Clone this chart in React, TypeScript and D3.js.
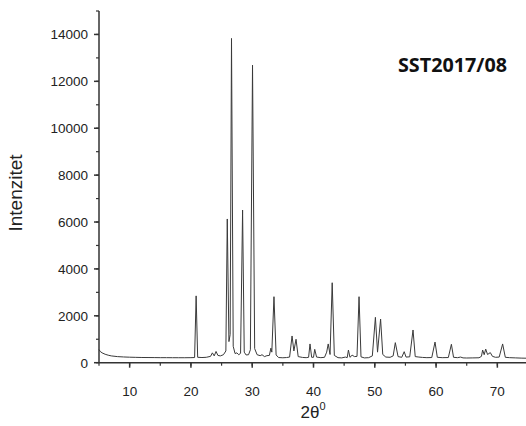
import React from "react";
import * as d3 from "d3";

const TITLE = "SST2017/08";
const X_LABEL = "2θ";
const Y_LABEL = "Intenzitet";
const X_TICKS = [10, 20, 30, 40, 50, 60, 70];
const Y_TICKS = [0, 2000, 4000, 6000, 8000, 10000, 12000, 14000];

// 2θ values of the pattern (degrees)
const TWO_THETA = [
  5.0, 5.2, 5.5, 6, 6.5, 7, 8, 9, 10, 11, 12, 13, 14, 15, 16, 17, 18, 19, 20,
  20.6, 20.85, 21.1, 21.8, 22.5, 23.2, 23.5, 23.8, 24.1, 24.4, 24.8, 25.3, 25.7,
  25.93, 26.2, 26.4, 26.62, 26.9, 27.2, 27.5, 27.8, 28.1, 28.43, 28.7, 29.0,
  29.4, 29.7, 30.05, 30.4, 30.8, 31.3, 31.6, 32.0, 32.4, 32.8, 33.05, 33.2,
  33.55, 33.9, 34.3, 35.0, 35.6, 36.1, 36.5, 36.8, 37.15, 37.5, 38.2, 38.8,
  39.2, 39.43, 39.7, 40.0, 40.2, 40.5, 41.2, 41.8, 42.15, 42.4, 42.7, 43.05,
  43.4, 44.0, 44.6, 45.2, 45.5, 45.7, 45.95, 46.3, 46.7, 47.1, 47.43, 47.75,
  48.3, 49.0, 49.6, 50.1, 50.45, 50.95, 51.3, 51.8, 52.5, 53.0, 53.35, 53.8,
  54.4, 54.8, 55.1, 55.7, 56.24, 56.6, 57.2, 57.8, 58.5, 59.3, 59.83, 60.2,
  61, 62.0, 62.5, 62.85, 63.5, 64.0, 64.4, 65, 66, 67, 67.4, 67.6, 67.85,
  68.1, 68.4, 68.85, 69.2, 69.7, 70.3, 70.86, 71.3, 72, 73, 74, 75,
];

// intensity values (counts)
const INTENSITY = [
  560, 480, 420, 360, 320, 290, 260, 245, 235, 228, 222, 220, 218, 215, 215, 213, 212, 212, 215,
  220, 2850, 230, 220, 230, 270, 420, 290, 480, 310, 290, 340, 500,
  6130, 900, 1200, 13830, 700, 390, 420, 340, 400, 6510, 450, 330,
  340, 550, 12690, 600, 340, 300, 340, 260, 300, 310, 620, 450,
  2815, 330, 220, 210, 220, 240, 1140, 500, 1000, 260, 225, 215,
  230, 800, 230, 230, 570, 240, 215, 230, 450, 800, 350, 3410,
  310, 215, 205, 240, 215, 540, 230, 320, 260, 270, 2815, 250,
  205, 215, 290, 1935, 450, 1860, 350, 240, 230, 290, 855, 260,
  230, 470, 240, 250, 1395, 260, 240, 225, 215, 220, 880, 230,
  215, 220, 785, 230, 215, 240, 205, 200, 205, 210, 270, 540, 340,
  580, 350, 430, 270, 230, 240, 800, 230, 215, 205, 195, 190,
];

const W = 526;
const H = 426;
const X0 = 99;
const X1 = 528;
const Y_BOTTOM = 362.7;
const Y_TOP = 11;

export default function App() {
  const x = d3.scaleLinear().domain([5, 75]).range([X0, X1]);
  const y = d3.scaleLinear().domain([0, 15000]).range([Y_BOTTOM, Y_TOP]);
  const data = TWO_THETA.map((t, i) => [t, INTENSITY[i]] as [number, number]);
  const line = d3
    .line<[number, number]>()
    .x((d) => x(d[0]))
    .y((d) => y(d[1]));
  const xMinor = d3.range(5, 76, 5);
  const yMinor = d3.range(0, 15001, 1000);
  const axisColor = "#333";
  const font = "'Liberation Sans', Arial, sans-serif";
  const y0 = y(0);
  const xa = x(5);
  return (
    <svg
      width={W}
      height={H}
      style={{ position: "absolute", left: 0, top: 0, background: "#fff" }}
    >
      <rect x={0} y={0} width={W} height={H} fill="#fff" />
      <path d={line(data) || ""} fill="none" stroke="#3a3a3a" strokeWidth={1} />
      {/* y axis */}
      <line x1={xa} x2={xa} y1={y(15000)} y2={y0} stroke={axisColor} strokeWidth={1.5} />
      {yMinor.map((v) => (
        <line key={"ym" + v} x1={xa - 3} x2={xa} y1={y(v)} y2={y(v)} stroke={axisColor} strokeWidth={1.2} />
      ))}
      {Y_TICKS.map((v) => (
        <g key={"y" + v}>
          <line x1={xa - 5} x2={xa} y1={y(v)} y2={y(v)} stroke={axisColor} strokeWidth={1.5} />
          <text
            x={xa - 11}
            y={y(v)}
            dy="0.36em"
            textAnchor="end"
            fontFamily={font}
            fontSize={13.5}
            fill="#222"
          >
            {v}
          </text>
        </g>
      ))}
      {/* x axis */}
      <line x1={xa} x2={W} y1={y0} y2={y0} stroke={axisColor} strokeWidth={1.5} />
      {xMinor.map((v) => (
        <line key={"xm" + v} x1={x(v)} x2={x(v)} y1={y0} y2={y0 + 3} stroke={axisColor} strokeWidth={1.2} />
      ))}
      {X_TICKS.map((v) => (
        <g key={"x" + v}>
          <line x1={x(v)} x2={x(v)} y1={y0} y2={y0 + 5} stroke={axisColor} strokeWidth={1.5} />
          <text x={x(v)} y={y0 + 33} textAnchor="middle" fontFamily={font} fontSize={13.5} fill="#222">
            {v}
          </text>
        </g>
      ))}
      <text x={313} y={418} textAnchor="middle" fontFamily={font} fontSize={17} fill="#222">
        {X_LABEL}
        <tspan fontSize={11} dy={-8}>0</tspan>
      </text>
      <text
        transform="translate(22, 193) rotate(-90)"
        textAnchor="middle"
        fontFamily={font}
        fontSize={19}
        fill="#222"
      >
        {Y_LABEL}
      </text>
      <text x={398} y={72} fontFamily="'Open Sans', 'DejaVu Sans', sans-serif" fontWeight="bold" fontSize={19.5} fill="#111" textLength={109} lengthAdjust="spacingAndGlyphs">
        {TITLE}
      </text>
    </svg>
  );
}
